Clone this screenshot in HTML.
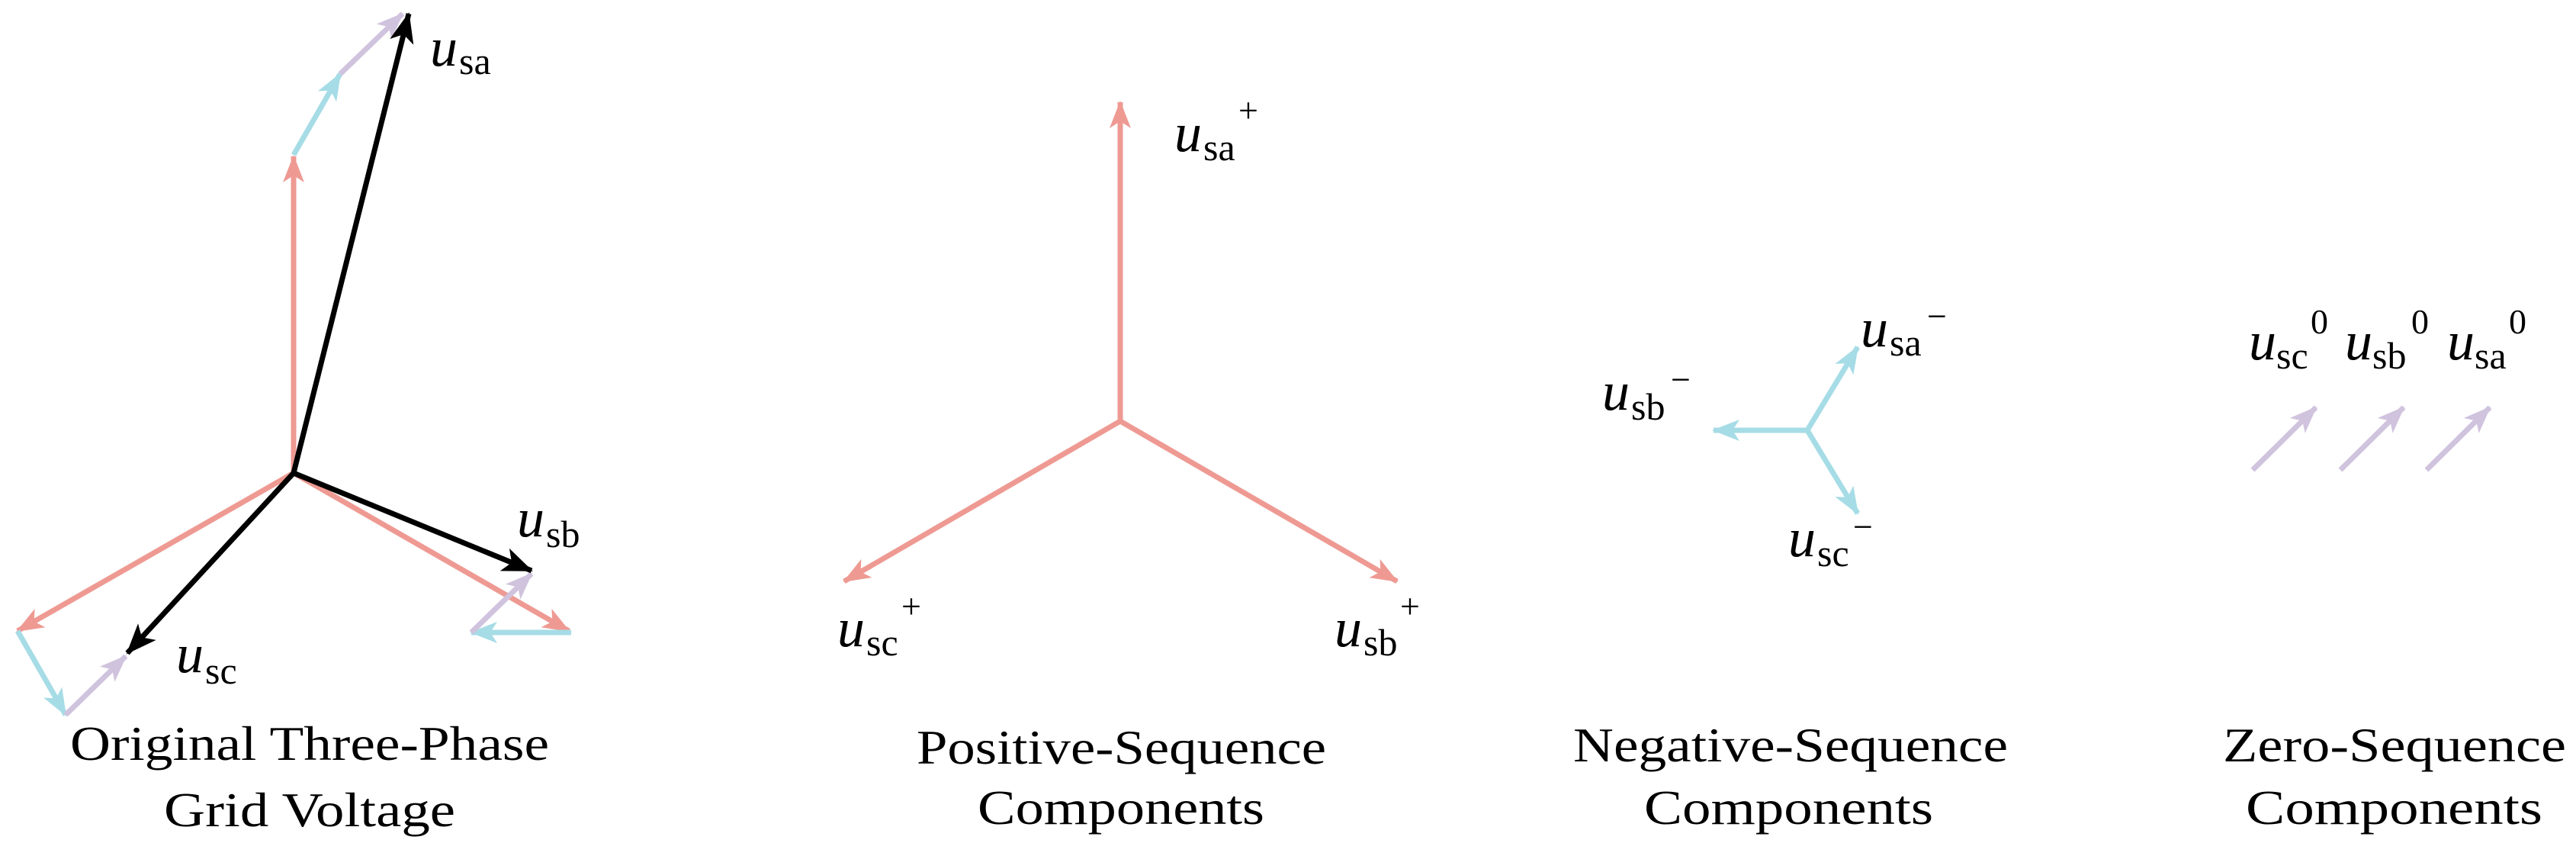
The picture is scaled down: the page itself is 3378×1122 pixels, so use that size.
<!DOCTYPE html>
<html><head><meta charset="utf-8"><style>
html,body{margin:0;padding:0;background:#fff;}
svg{display:block;}
text,tspan{font-family:"Liberation Serif",serif;fill:#000;}
.t{font-size:64px;}
.u{font-style:italic;font-size:72px;}
.s{font-size:50px;font-style:normal;}
.p{font-size:46px;font-style:normal;}
</style></head><body>
<svg width="3378" height="1122" viewBox="0 0 3378 1122" xmlns="http://www.w3.org/2000/svg">
<defs>
<marker id="mr" markerUnits="userSpaceOnUse" markerWidth="40" markerHeight="30" refX="34" refY="14" orient="auto"><path d="M0,0 L36,14 L0,28 L9,14 z" fill="#EE9A93"/></marker>
<marker id="mc" markerUnits="userSpaceOnUse" markerWidth="40" markerHeight="30" refX="34" refY="14" orient="auto"><path d="M0,0 L36,14 L0,28 L9,14 z" fill="#A6DCE6"/></marker>
<marker id="mp" markerUnits="userSpaceOnUse" markerWidth="40" markerHeight="30" refX="34" refY="14" orient="auto"><path d="M0,0 L36,14 L0,28 L9,14 z" fill="#D0C3DE"/></marker>
<marker id="mk" markerUnits="userSpaceOnUse" markerWidth="44" markerHeight="34" refX="38" refY="16" orient="auto"><path d="M0,0 L40,16 L0,32 L10,16 z" fill="#000"/></marker>
</defs>
<g stroke-width="7" fill="none" stroke-linecap="butt">
<line x1="385" y1="620" x2="385" y2="205" stroke="#EE9A93" marker-end="url(#mr)"/>
<line x1="385" y1="203" x2="446" y2="97" stroke="#A6DCE6" marker-end="url(#mc)"/>
<line x1="446" y1="97" x2="528" y2="18" stroke="#D0C3DE" marker-end="url(#mp)"/>
<line x1="385" y1="620" x2="746" y2="827" stroke="#EE9A93" marker-end="url(#mr)"/>
<line x1="749" y1="829" x2="618" y2="829" stroke="#A6DCE6" marker-end="url(#mc)"/>
<line x1="618" y1="829" x2="697" y2="752" stroke="#D0C3DE" marker-end="url(#mp)"/>
<line x1="385" y1="620" x2="23" y2="827" stroke="#EE9A93" marker-end="url(#mr)"/>
<line x1="23" y1="827" x2="86" y2="937" stroke="#A6DCE6" marker-end="url(#mc)"/>
<line x1="86" y1="937" x2="165" y2="860" stroke="#D0C3DE" marker-end="url(#mp)"/>
<line x1="385" y1="620" x2="536" y2="18" stroke="#000" marker-end="url(#mk)"/>
<line x1="385" y1="620" x2="697" y2="748" stroke="#000" marker-end="url(#mk)"/>
<line x1="385" y1="620" x2="167" y2="856" stroke="#000" marker-end="url(#mk)"/>
<line x1="1469" y1="552" x2="1469" y2="134" stroke="#EE9A93" marker-end="url(#mr)"/>
<line x1="1469" y1="552" x2="1107" y2="762" stroke="#EE9A93" marker-end="url(#mr)"/>
<line x1="1469" y1="552" x2="1832" y2="762" stroke="#EE9A93" marker-end="url(#mr)"/>
<line x1="2370" y1="564" x2="2436" y2="455" stroke="#A6DCE6" marker-end="url(#mc)"/>
<line x1="2370" y1="564" x2="2247" y2="564" stroke="#A6DCE6" marker-end="url(#mc)"/>
<line x1="2370" y1="564" x2="2436" y2="673" stroke="#A6DCE6" marker-end="url(#mc)"/>
<line x1="2954" y1="616" x2="3037" y2="534" stroke="#D0C3DE" marker-end="url(#mp)"/>
<line x1="3069" y1="616" x2="3152" y2="534" stroke="#D0C3DE" marker-end="url(#mp)"/>
<line x1="3182" y1="616" x2="3265" y2="534" stroke="#D0C3DE" marker-end="url(#mp)"/>
</g>
<text class="u" x="564" y="86">u<tspan class="s" x="602" y="97">sa</tspan></text>
<text class="u" x="678" y="703">u<tspan class="s" x="716" y="717">sb</tspan></text>
<text class="u" x="231" y="881">u<tspan class="s" x="269" y="896">sc</tspan></text>

<text class="u" x="1540" y="198">u<tspan class="s" x="1578" y="210">sa</tspan><tspan class="p" x="1624" y="160">+</tspan></text>
<text class="u" x="1098" y="847">u<tspan class="s" x="1136" y="859">sc</tspan><tspan class="p" x="1182" y="810">+</tspan></text>
<text class="u" x="1750" y="847">u<tspan class="s" x="1788" y="859">sb</tspan><tspan class="p" x="1836" y="810">+</tspan></text>

<text class="u" x="2440" y="454">u<tspan class="s" x="2478" y="466">sa</tspan><tspan class="p" x="2527" y="430">−</tspan></text>
<text class="u" x="2101" y="537">u<tspan class="s" x="2139" y="550">sb</tspan><tspan class="p" x="2191" y="513">−</tspan></text>
<text class="u" x="2345" y="729">u<tspan class="s" x="2383" y="742">sc</tspan><tspan class="p" x="2430" y="706">−</tspan></text>

<text class="u" x="2949" y="471">u<tspan class="s" x="2985" y="483">sc</tspan><tspan class="p" x="3030" y="437">0</tspan></text>
<text class="u" x="3075" y="471">u<tspan class="s" x="3111" y="483">sb</tspan><tspan class="p" x="3162" y="437">0</tspan></text>
<text class="u" x="3209" y="471">u<tspan class="s" x="3245" y="483">sa</tspan><tspan class="p" x="3290" y="437">0</tspan></text>

<text class="t" x="92" y="996" textLength="628" lengthAdjust="spacingAndGlyphs">Original Three-Phase</text>
<text class="t" x="215" y="1083" textLength="382" lengthAdjust="spacingAndGlyphs">Grid Voltage</text>
<text class="t" x="1202" y="1001" textLength="537" lengthAdjust="spacingAndGlyphs">Positive-Sequence</text>
<text class="t" x="1282" y="1080" textLength="376" lengthAdjust="spacingAndGlyphs">Components</text>
<text class="t" x="2063" y="998" textLength="570" lengthAdjust="spacingAndGlyphs">Negative-Sequence</text>
<text class="t" x="2156" y="1080" textLength="379" lengthAdjust="spacingAndGlyphs">Components</text>
<text class="t" x="2915" y="998" textLength="450" lengthAdjust="spacingAndGlyphs">Zero-Sequence</text>
<text class="t" x="2945" y="1080" textLength="389" lengthAdjust="spacingAndGlyphs">Components</text>
</svg>
</body></html>
